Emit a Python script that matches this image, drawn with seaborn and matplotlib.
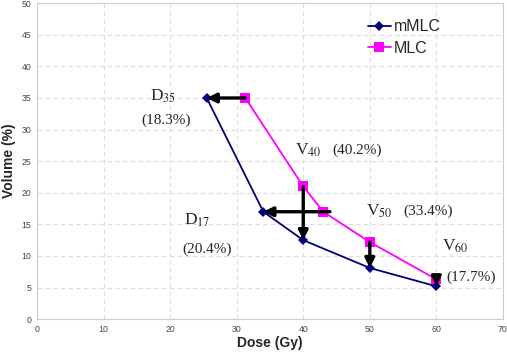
import pandas as pd
import matplotlib
matplotlib.use('Agg')
import matplotlib.pyplot as plt
import seaborn as sns

# 데이터
dose_mmlc = [25.5, 34, 40, 50, 60]
vol_mmlc = [35, 17, 12.5, 8.1, 5.2]
dose_mlc = [31.3, 40, 43, 50, 60]
vol_mlc = [35, 21, 17, 12.2, 6.3]

# 화살표: (시작 x, 시작 y, 끝 x, 끝 y)
arrows = [(31.3, 35, 25.5, 35),
          (44, 17, 34, 17),
          (40, 21, 40, 12.5),
          (50, 12.2, 50, 8.1),
          (60, 6.3, 60, 5.2)]

# 주석 텍스트: (이름, 아래첨자, x, y), (퍼센트, x, y)
labels = [('D', '35', 19, 35.2), ('D', '17', 24, 15.6),
          ('V', '40', 40.8, 26.7), ('V', '50', 51.5, 17), ('V', '60', 62.9, 11.5)]
pcts = [('(18.3%)', 19.4, 31.4), ('(20.4%)', 25.6, 11),
        ('(40.2%)', 48.1, 26.7), ('(33.4%)', 58.8, 17), ('(17.7%)', 65.2, 6.7)]

df = pd.concat([
    pd.DataFrame({'Dose': dose_mmlc, 'Volume': vol_mmlc, 'Plan': 'mMLC'}),
    pd.DataFrame({'Dose': dose_mlc, 'Volume': vol_mlc, 'Plan': 'MLC'}),
])

sns.set_style('white')
plt.rcParams['font.family'] = ['Liberation Sans', 'DejaVu Sans']
plt.rcParams['mathtext.fontset'] = 'stix'

fig = plt.figure(figsize=(5.07, 3.57), dpi=100)
ax = fig.add_axes([0.073, 0.106, 0.919, 0.885])

sns.lineplot(data=df, x='Dose', y='Volume', hue='Plan', style='Plan',
             palette={'mMLC': '#000080', 'MLC': '#FF00FF'},
             markers={'mMLC': 'D', 'MLC': 's'}, dashes=False,
             linewidth=1.3, markeredgewidth=0,
             sort=False, ax=ax, legend=False)

# 마커 크기 따로 조정
ax.lines[0].set_markersize(5)
ax.lines[1].set_markersize(6.5)

for x0, y0, x1, y1 in arrows:
    ax.annotate('', xy=(x1, y1), xytext=(x0, y0),
                arrowprops=dict(arrowstyle='-|>', lw=2.4, color='black',
                                mutation_scale=14, shrinkA=0, shrinkB=0))

for name, sub, x, y in labels:
    ax.text(x, y, name + r'$_{\mathrm{' + sub + '}}$', fontsize=12.5,
            family='Liberation Serif', ha='center', va='center')
for t, x, y in pcts:
    ax.text(x, y, t, fontsize=11, family='Liberation Serif', ha='center', va='center')

ax.set_xlim(0, 70)
ax.set_ylim(0, 50)
ax.set_xticks(range(0, 71, 10))
ax.set_yticks(range(0, 51, 5))
ax.tick_params(labelsize=6.3, colors='#444444', length=0, pad=4)
ax.grid(True, ls=(0, (4, 3)), color='#dddddd', lw=0.8)
for s in ax.spines.values():
    s.set_color('#cccccc')
    s.set_linewidth(0.8)
ax.set_xlabel('Dose (Gy)', fontsize=10, fontweight='bold', labelpad=2)
ax.set_ylabel('Volume (%)', fontsize=10, fontweight='bold', labelpad=4)

leg = ax.legend(ax.lines[:2], ['mMLC', 'MLC'], loc='upper left',
                bbox_to_anchor=(0.68, 0.995), frameon=False,
                fontsize=11.5, handlelength=1.4, handletextpad=0.2, labelspacing=0.4)

fig.savefig('out.png', dpi=100)
